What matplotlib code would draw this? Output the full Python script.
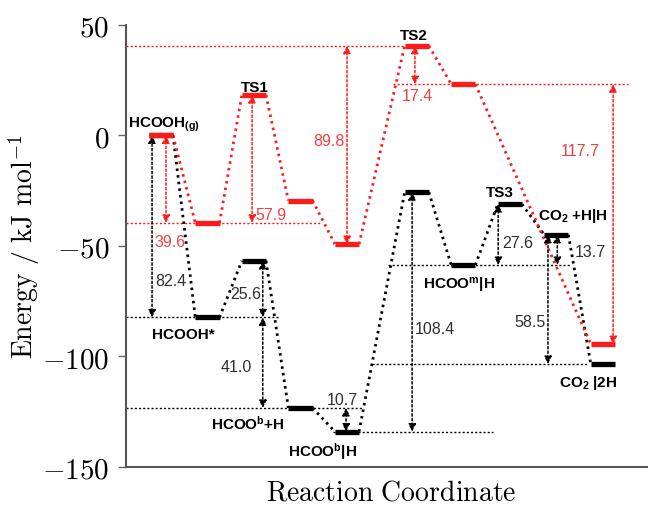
import matplotlib
matplotlib.use("Agg")
import matplotlib.pyplot as plt

plt.rcParams['mathtext.fontset'] = 'custom'
plt.rcParams['mathtext.rm'] = 'Liberation Sans'
plt.rcParams['mathtext.bf'] = 'Liberation Sans:bold'
plt.rcParams['mathtext.it'] = 'Liberation Sans:italic'
plt.rcParams['font.family'] = 'Liberation Sans'

# reaction steps along the coordinate and their energies (kJ/mol)
red_x = [0, 1, 2, 3, 4, 5.5, 6.5, 9.5]
red_E = [0, -39.6, 18.3, -29.5, -49.2, 40.6, 23.2, -94.5]
black_x = [0, 1, 2, 3, 4, 5.5, 6.5, 7.5, 8.5, 9.5]
black_E = [0, -82.4, -56.8, -123.4, -134.1, -25.7, -58.7, -31.1, -45.0, -103.5]

# barrier / energy-difference arrows: (x, from, to, label, label x, label y, align)
black_arrows = [
    (-0.19, -82.4, 0.0, "82.4", -0.13, -65.7, "left"),
    (2.19, -56.8, -82.4, "25.6", 2.15, -71.7, "right"),
    (2.19, -82.4, -123.4, "41.0", 1.96, -104.7, "right"),
    (3.98, -123.4, -134.1, "10.7", 3.91, -119.6, "center"),
    (5.4, -134.1, -25.7, "108.4", 5.46, -87.5, "left"),
    (7.25, -58.7, -31.1, "27.6", 7.33, -48.6, "left"),
    (8.32, -45.0, -103.5, "58.5", 8.26, -84.3, "right"),
    (8.52, -45.0, -58.7, "13.7", 8.9, -52.7, "left"),
]
red_arrows = [
    (0.11, 0.0, -39.6, "39.6", -0.13, -48.1, "left"),
    (1.96, 18.3, -39.6, "57.9", 2.04, -35.9, "left"),
    (4.0, -49.2, 40.6, "89.8", 3.94, -2.4, "right"),
    (5.46, 40.6, 23.2, "17.4", 5.52, 18.0, "center"),
    (9.72, 23.2, -94.5, "117.7", 9.01, -6.9, "center"),
]

# horizontal reference lines: (level, x start, x end)
black_refs = [(-82.4, -0.75, 2.56), (-123.4, -0.75, 4.32), (-134.1, 3.7, 7.14),
              (-58.7, 4.88, 8.8), (-103.5, 4.54, 9.18)]
red_refs = [(40.6, -0.75, 5.25), (-39.6, -0.75, 3.42), (23.2, 4.99, 10.04)]

# state names: (text, x, y, align)
names = [
    (r"HCOOH$_{\mathbf{(g)}}$", 0.84, 5.1, "right"),
    ("TS1", 2.01, 22.0, "center"),
    ("TS2", 5.44, 45.6, "center"),
    ("TS3", 7.28, -25.5, "center"),
    (r"CO$_{\mathbf{2}}$ +H|H", 8.11, -35.9, "left"),
    ("HCOOH*", 0.49, -89.7, "center"),
    (r"HCOO$^{\mathbf{b}}$+H", 1.86, -130.0, "center"),
    (r"HCOO$^{\mathbf{b}}$|H", 3.48, -142.7, "center"),
    (r"HCOO$^{\mathbf{m}}$|H", 6.41, -67.6, "center"),
    (r"CO$_{\mathbf{2}}$ |2H", 9.19, -111.5, "center"),
]

RED = "#ff1a1a"
RED_TXT = "#f04040"
hw = 0.26

fig = plt.figure(figsize=(6.48, 5.06), dpi=100)
ax = fig.add_axes([126 / 648, 38.3 / 506, 522 / 648, 441.7 / 506])


def draw_path(xs, es, color):
    for i in range(len(xs) - 1):
        ax.plot([xs[i] + hw, xs[i + 1] - hw], [es[i], es[i + 1]], color=color,
                ls=(0, (0.9, 1.5)), lw=2.0, zorder=2)
    for x, e in zip(xs, es):
        ax.plot([x - hw, x + hw], [e, e], color=color, lw=3.8,
                solid_capstyle='butt', zorder=4)


def draw_arrows(arrows, color, tcolor):
    for x, e0, e1, txt, tx, ty, ha in arrows:
        ax.annotate("", xy=(x, e1), xytext=(x, e0),
                    arrowprops=dict(arrowstyle="<|-|>", color=color, lw=1.1,
                                    ls=(0, (1.5, 1.5)), shrinkA=0, shrinkB=0,
                                    mutation_scale=11), zorder=3)
        ax.text(tx, ty, txt, color=tcolor, fontsize=11.5, ha=ha, va="center", zorder=5)


for e, x0, x1 in black_refs:
    ax.plot([x0, x1], [e, e], color="black", ls=(0, (1.5, 1.5)), lw=1.0, zorder=1)
for e, x0, x1 in red_refs:
    ax.plot([x0, x1], [e, e], color=RED, ls=(0, (1.5, 1.5)), lw=1.0, zorder=1)

draw_path(black_x, black_E, "black")
draw_path(red_x, red_E, RED)
draw_arrows(black_arrows, "black", "#303030")
draw_arrows(red_arrows, RED, RED_TXT)

for txt, x, y, ha in names:
    ax.text(x, y, txt, fontsize=11, fontweight="bold", ha=ha, va="center",
            zorder=6, clip_on=False)

ax.set_xlim(-0.75, 10.47)
ax.set_ylim(-150, 50)
ax.set_xticks([])
yt = [50, 0, -50, -100, -150]
ax.set_yticks(yt, labels=[r"$%d$" % v for v in yt])
for lab in ax.get_yticklabels():
    lab.set_math_fontfamily("cm")
    lab.set_fontsize(21)
ax.tick_params(axis="y", length=6, width=1, color="#666666", pad=6)
for s in ["top", "right"]:
    ax.spines[s].set_visible(False)
for s in ["left", "bottom"]:
    ax.spines[s].set_color("#555555")
    ax.spines[s].set_linewidth(1.5)

ax.set_ylabel(r"$\mathrm{Energy\ /\ kJ\ mol^{-1}}$", fontsize=20,
              math_fontfamily="cm")
ax.yaxis.set_label_coords(-0.161, 0.5)
ax.set_xlabel(r"$\mathrm{Reaction\ Coordinate}$", fontsize=20,
              math_fontfamily="cm")
ax.xaxis.set_label_coords(0.508, -0.03)

fig.savefig("out.png", dpi=100)
